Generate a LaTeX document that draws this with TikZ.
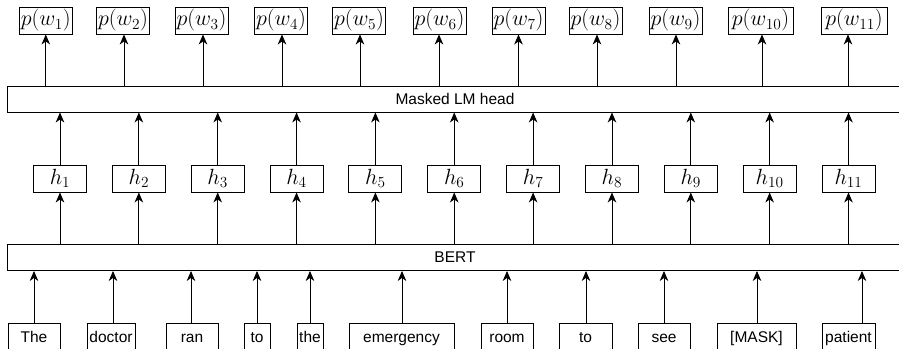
\RequirePackage{fix-cm}
\documentclass[tikz,border=0pt]{standalone}
\usepackage{fontspec}
\setsansfont{Liberation Sans}
\usetikzlibrary{arrows.meta,calc}
\begin{document}
\begin{tikzpicture}[x=1pt,y=-1pt,
  box/.style={draw, line width=0.9pt, inner sep=0pt, anchor=center},
  pbox/.style={box, minimum height=27pt, font=\fontsize{22}{22}\selectfont},
  hbox/.style={box, minimum width=53pt, minimum height=27pt, font=\fontsize{22}{22}\selectfont},
  tok/.style={box, minimum height=28pt, text height=11pt, text depth=1pt, font=\sffamily\fontsize{15.5}{15.5}\selectfont},
  wide/.style={box, minimum width=896pt, minimum height=26pt, font=\sffamily\fontsize{15.5}{15.5}\selectfont},
  arr/.style={-{Stealth[length=10pt,width=8.5pt,inset=3pt]}, line width=0.9pt}]
\useasboundingbox (0,0) rectangle (899,348);
\clip (0,0) rectangle (899,348);
% wide boxes
\node[wide] (lm) at (455,99) {Masked LM head};
\node[wide] (bert) at (455,257.5) {BERT};
% output boxes
\foreach \i/\px/\w/\d in {1/45.8/53/0, 2/123/53/1, 3/201.5/53/1.5, 4/281/53/1, 5/359/53/1, 6/439.5/53/-0.5, 7/518.5/53/0, 8/595.5/53/1.5, 9/675.5/53/0.5, 10/760.5/65/1.5, 11/854/66/-6}{
  \node[pbox, minimum width=\w] (p\i) at (\px,20.5) {$p(w_{\i})$};
  \draw[arr] ($(lm.north -| p\i.south)+(\d,0)$) -- ($(p\i.south)+(\d,0)$);
}
% hidden states
\foreach \i in {1,...,11}{
  \node[hbox] (h\i) at ({60+78.85*(\i-1)},178.5) {$h_{\i}$};
  \draw[arr] (h\i.north) -- (lm.south -| h\i.north);
  \draw[arr] (bert.north -| h\i.south) -- (h\i.south);
}
% tokens
\foreach \i/\a/\b/\t/\d in {1/8/60/The/0, 2/87/135/doctor/2, 3/166/218/ran/-1, 4/244/270/to/0, 5/297/323/the/0, 6/349/454/emergency/0.5, 7/481/533/room/0, 8/559/612/to/0.5, 9/638/690/see/0, 10/717/796/{[MASK]}/0.5, 11/822/875/patient/13.5}{
  \node[tok, minimum width=\b-\a] (t\i) at ({(\a+\b)/2},337) {\t};
  \draw[arr] ($(t\i.north)+(\d,0)$) -- ($(bert.south -| t\i.north)+(\d,0)$);
}
\end{tikzpicture}
\end{document}
